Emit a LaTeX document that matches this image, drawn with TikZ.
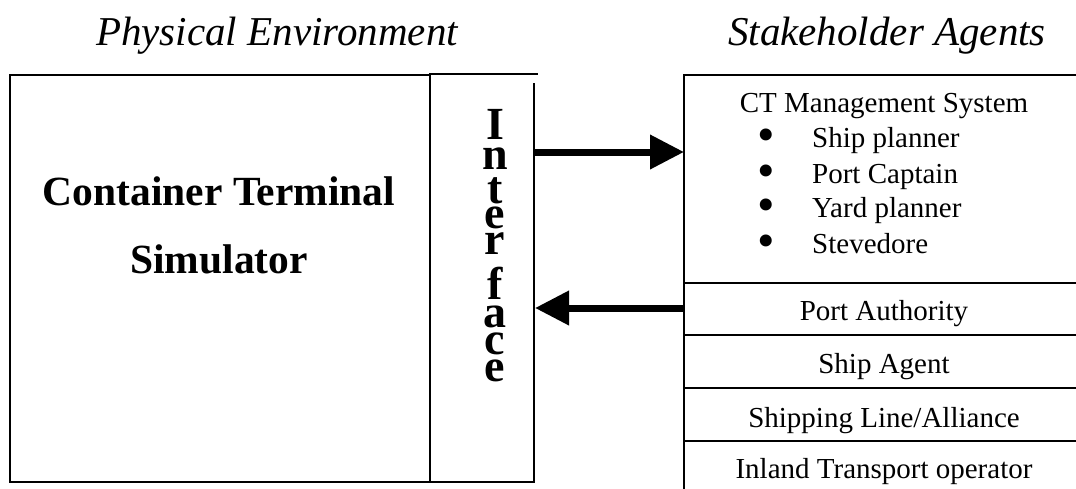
\documentclass[tikz,border=0pt]{standalone}
\usepackage{fontspec}
\setmainfont{Liberation Serif}
\usetikzlibrary{arrows.meta}
\begin{document}
\begin{tikzpicture}[x=1pt,y=-1pt,
  frame/.style={line width=1.6pt,line cap=rect},
  bigarrow/.style={line width=7pt,-{Triangle[length=34pt,width=33pt]}},
  heading/.style={font=\fontsize{41}{48}\selectfont\itshape,anchor=base,inner sep=0pt},
  simtext/.style={font=\fontsize{41.5}{48}\selectfont\bfseries,anchor=base,inner sep=0pt},
  agent/.style={font=\fontsize{29}{35}\selectfont,anchor=base,inner sep=0pt},
  agentitem/.style={font=\fontsize{29}{35}\selectfont,anchor=base west,inner sep=0pt},
  bulletmark/.style={font=\fontsize{50}{50}\selectfont,anchor=center,inner sep=0pt},
  ifacetext/.style={font={\fontsize{46}{26}\selectfont\bfseries\lineskiplimit=-100pt},
    align=center,anchor=north,inner sep=0pt},
]
\useasboundingbox (0,0) rectangle (1076,488);

% headings
\node[heading] (physhead) at (277,45) {Physical Environment};
\node[heading] (stakehead) at (887,45) {Stakeholder Agents};

% simulator box
\draw[frame] (10,75) rectangle (430,482);
\node[simtext] (sim1) at (219,205) {Container Terminal};
\node[simtext] (sim2) at (219,273) {Simulator};

% interface box
\draw[frame] (430,74) -- (537,74);
\draw[frame] (534,84) -- (534,482) -- (430,482);
\node[ifacetext] (iface) at (495,109.5)
  {I\\[4pt]n\\[8pt]t\\[-1pt]e\\r\\[19pt]f\\[2pt]a\\[1pt]c\\[1pt]e};

% agents panel
\draw[frame] (1076,75) -- (684,75) -- (684,488);
\foreach \yy in {283,335,388,441}{
  \draw[frame] (684,\yy) -- (1076,\yy);
}
\node[agent] (ctms) at (884,112) {CT Management System};
\foreach \yy/\txt/\nm in {147/Ship planner/sp,183/Port Captain/pc,217/Yard planner/yp,253/Stevedore/st}{
  \node[bulletmark] (b\nm) at (766,\yy-7) {•};
  \node[agentitem] (\nm) at (812,\yy) {\txt};
}
\node[agent] (pa) at (884,320) {Port Authority};
\node[agent] (sa) at (884,373) {Ship Agent};
\node[agent] (sl) at (884,427) {Shipping Line/Alliance};
\node[agent] (it) at (884,478) {Inland Transport operator};

% arrows
\coordinate (ifout) at (534,152);
\coordinate (agin) at (684,152);
\coordinate (agout) at (684,308);
\coordinate (ifin) at (535,308);
\draw[bigarrow] (ifout) -- (agin);
\draw[bigarrow] (agout) -- (ifin);
\end{tikzpicture}
\end{document}
